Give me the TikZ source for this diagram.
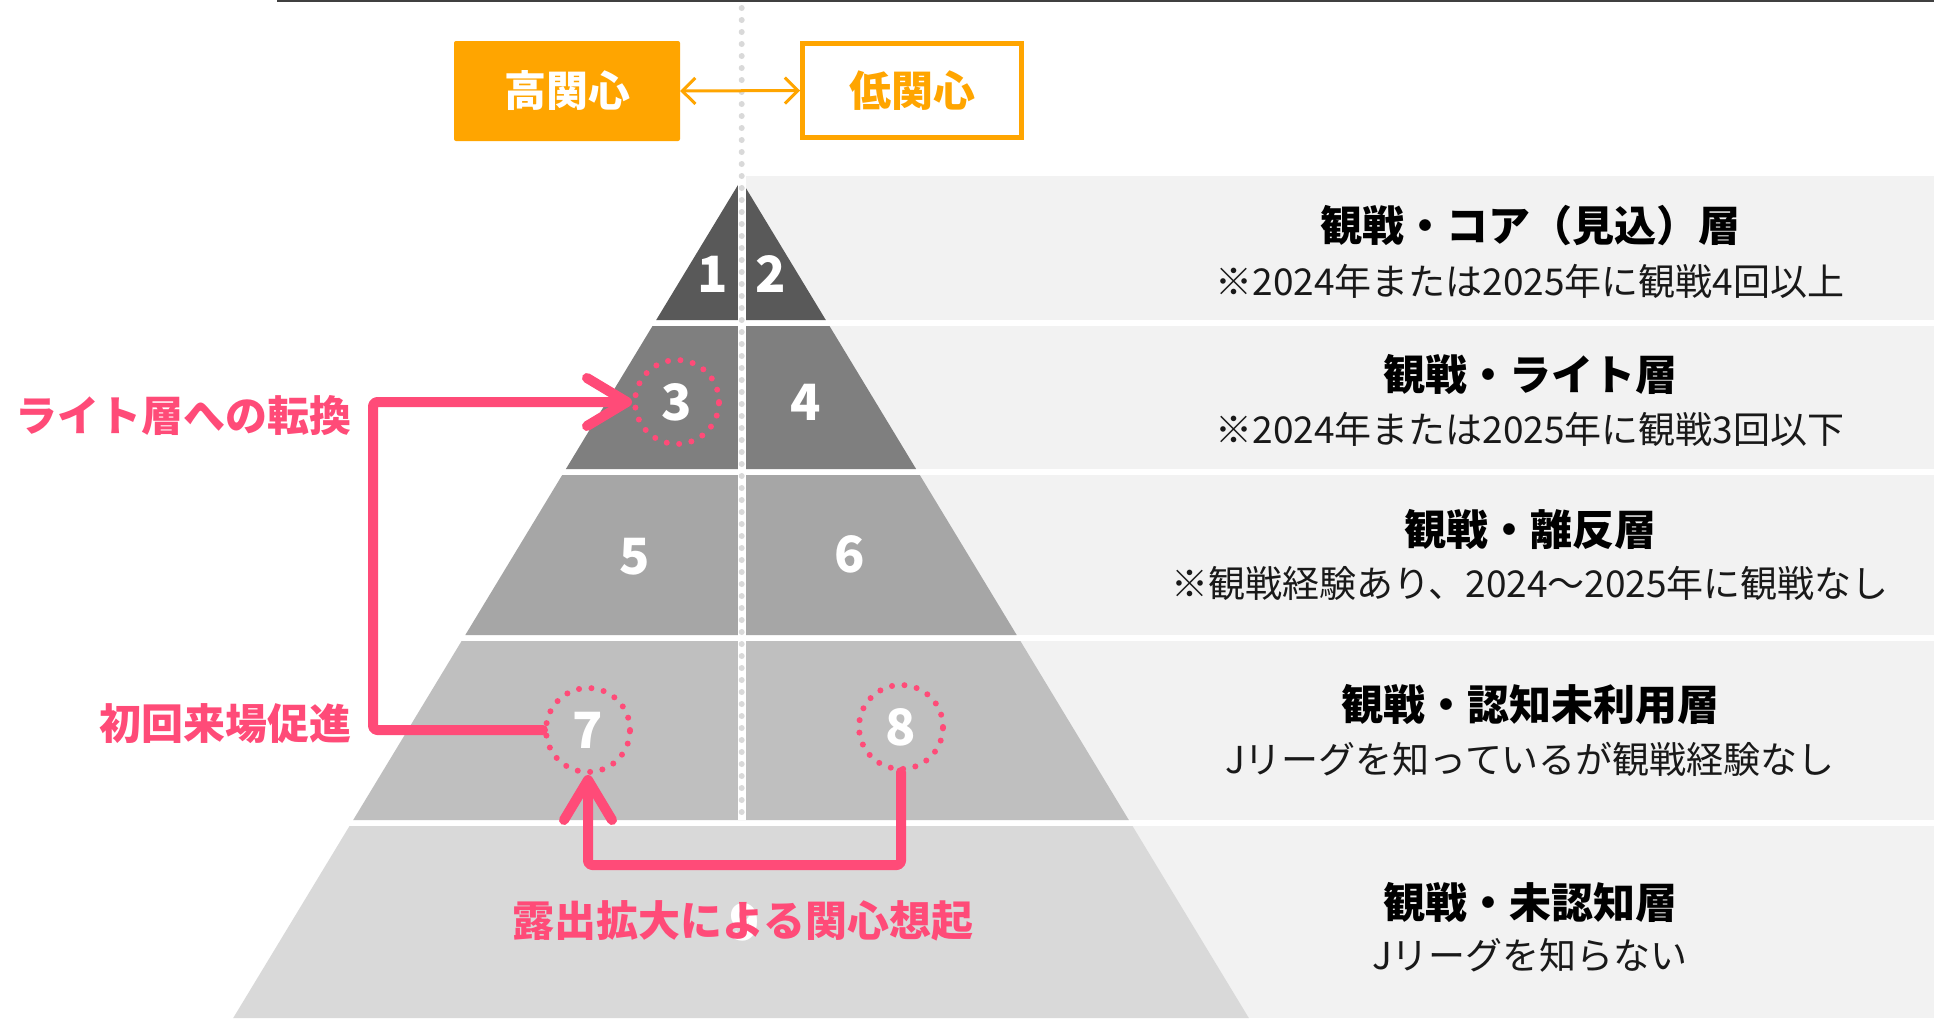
\documentclass[tikz,border=0pt]{standalone}
\usepackage{fontspec}
\newfontfamily\jp{Noto Sans CJK JP}
\usetikzlibrary{arrows.meta,calc}
\definecolor{orng}{HTML}{FFA500}
\definecolor{pnk}{HTML}{FF4B78}
\definecolor{bandA}{HTML}{595959}
\definecolor{bandB}{HTML}{7F7F7F}
\definecolor{bandC}{HTML}{A6A6A6}
\definecolor{bandD}{HTML}{BFBFBF}
\definecolor{bandE}{HTML}{D9D9D9}
\definecolor{panel}{HTML}{F2F2F2}
\definecolor{dotg}{HTML}{D9D9D9}
\definecolor{topl}{HTML}{404040}
\begin{document}
\begin{tikzpicture}[x=1pt,y=-1pt,
  num/.style={text=white, font=\jp\bfseries\fontsize{50}{54}\selectfont, inner sep=0pt},
  ring/.style={circle, minimum size=84pt, inner sep=0pt, draw=pnk, line width=6pt,
    dash pattern=on 0pt off 12.5pt, line cap=round},
  ttl/.style={font=\jp\bfseries\fontsize{42}{48}\selectfont, text=black, inner sep=0pt},
  subt/.style={font=\jp\fontsize{37}{42}\selectfont, text=black!90, inner sep=0pt},
  lbl/.style={font=\jp\bfseries\fontsize{42}{48}\selectfont, text=pnk, inner sep=0pt},
  flow/.style={draw=pnk, line width=10pt, line cap=round, line join=round, rounded corners=4pt,
    -{Straight Barb[round,length=40pt,width=48pt]}},
  boxlbl/.style={font=\jp\bfseries\fontsize{42}{48}\selectfont, inner sep=0pt},
]
\useasboundingbox (0,0) rectangle (1934,1018);
\fill[white] (0,0) rectangle (1934,1018);

% right panels
\fill[panel] (741,176) rectangle (1934,320);
\fill[panel] (741,326) rectangle (1934,469);
\fill[panel] (741,475) rectangle (1934,635);
\fill[panel] (741,641) rectangle (1934,820);
\fill[panel] (741,826) rectangle (1934,1018);

% pyramid bands
\fill[bandA] (741,180) -- (825.8,320) -- (656.2,320) -- cycle;
\fill[bandB] (652.5,326) -- (829.5,326) -- (916.1,469) -- (565.9,469) -- cycle;
\fill[bandC] (562.2,475) -- (919.8,475) -- (1016.7,635) -- (465.3,635) -- cycle;
\fill[bandD] (461.6,641) -- (1020.4,641) -- (1128.8,820) -- (353.2,820) -- cycle;
\fill[bandE] (349.5,826) -- (1132.5,826) -- (1248.8,1018) -- (233.2,1018) -- cycle;

% center split and dotted line
\fill[white] (738,176) rectangle (745.5,820);
\draw[dotg, line width=6pt, line cap=round, dash pattern=on 0pt off 12pt] (741.7,8) -- (741.7,822);

% top line
\draw[topl, line width=2pt] (277,1) -- (1934,1);

% interest boxes
\node[fill=orng, rounded corners=2pt, minimum width=226pt, minimum height=100pt, text=white, boxlbl] (hi) at (567,91) {高関心};
\node[draw=orng, line width=5pt, fill=white, minimum width=219pt, minimum height=94pt, text=orng, boxlbl] (lo) at (912,90.5) {低関心};
\draw[orng, line width=3pt, {Straight Barb[length=13pt,width=26pt]}-{Straight Barb[length=13pt,width=26pt]}] (hi.east) -- (lo.west);

% numbers
\node[num] (n1) at (713,274) {1};
\node[num] (n2) at (771,274) {2};
\node[num] (n4) at (806,402) {4};
\node[num] (n5) at (635,557) {5};
\node[num] (n6) at (850,554) {6};
\node[num] (n9) at (745,922) {9};
\node[ring, num] (c3) at (677,402) {3};
\node[ring, num] (c7) at (588,730) {7};
\node[ring, num] (c8) at (901,727) {8};

% flows
\draw[flow] (c7.west) -- ++(-170,0) |- (c3.west);
\draw[flow] (c8.south) -- ++(0,93) -| (c7.south);

% pink labels
\node[lbl, anchor=east] (lA) at (352,416) {ライト層への転換};
\node[lbl, anchor=east] (lB) at (352,724) {初回来場促進};
\node[lbl] (lC) at (743,921) {露出拡大による関心想起};

% right texts
\node[ttl] (t1) at (1530,226) {観戦・コア（見込）層};
\node[subt] (s1) at (1530,281) {※2024年または2025年に観戦4回以上};
\node[ttl] (t2) at (1530,374) {観戦・ライト層};
\node[subt] (s2) at (1530,429) {※2024年または2025年に観戦3回以下};
\node[ttl] (t3) at (1530,529) {観戦・離反層};
\node[subt] (s3) at (1530,583) {※観戦経験あり、2024～2025年に観戦なし};
\node[ttl] (t4) at (1530,705) {観戦・認知未利用層};
\node[subt] (s4) at (1530,759) {Jリーグを知っているが観戦経験なし};
\node[ttl] (t5) at (1530,902) {観戦・未認知層};
\node[subt] (s5) at (1530,955) {Jリーグを知らない};
\end{tikzpicture}
\end{document}
